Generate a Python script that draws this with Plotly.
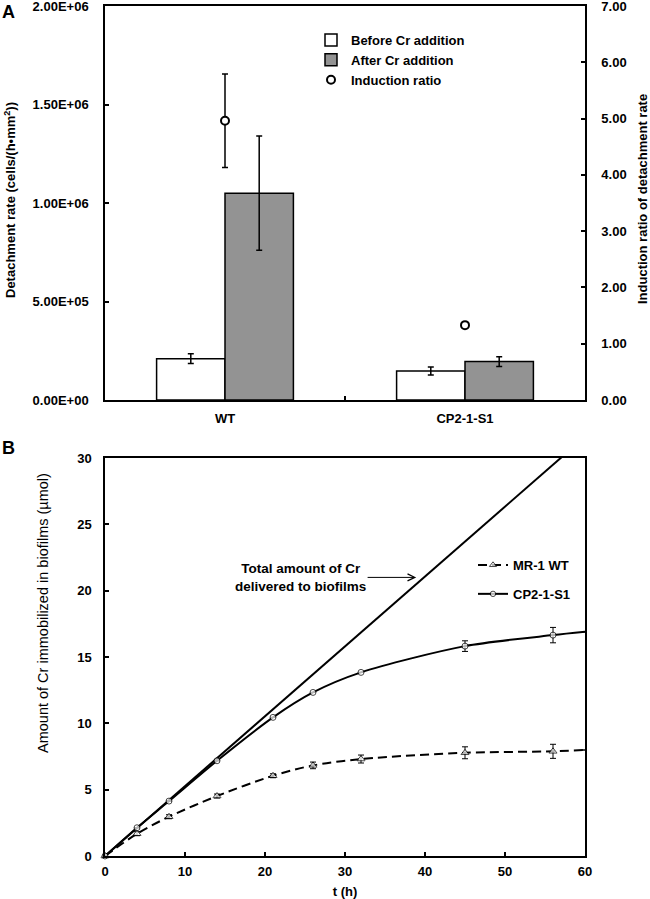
import math
import plotly.graph_objects as go

# ---------------- Panel A data ----------------
strains = ["WT", "CP2-1-S1"]
before_rate = [2.10e5, 1.47e5]
before_err = [2.5e4, 2.0e4]
after_rate = [1.05e6, 1.95e5]
after_err = [2.9e5, 2.5e4]
induction_ratio = [4.96, 1.33]
induction_err = [0.83, float("nan")]

rate_ticks = [0, 5e5, 1e6, 1.5e6, 2e6]
rate_ticktext = [f"{v:.2E}" for v in rate_ticks]
ratio_ticks = [0, 1, 2, 3, 4, 5, 6, 7]

# ---------------- Panel B data ----------------
NA = float("nan")
time_h = [0, 4, 8, 14, 21, 26, 32, 45, 56]
wt_cr = [0, 1.68, 2.96, 4.52, 6.05, 6.83, 7.31, 7.78, 7.89]
wt_cr_err = [NA, 0.15, 0.15, 0.15, 0.15, 0.25, 0.3, 0.45, 0.53]
cp_cr = [0, 2.13, 4.14, 7.18, 10.45, 12.33, 13.84, 15.82, 16.65]
cp_cr_err = [NA, NA, NA, NA, NA, NA, NA, 0.4, 0.58]
# fitted curves continue to the axis end
fit_end_t = 60
wt_fit_end = 7.99
cp_fit_end = 16.9
total_t = [0, 60]
total_cr = [0, 31.6]

FONT = "Liberation Sans, Arial, sans-serif"
W, H = 650, 899

def px(x):
    return x / W

def py(y):
    return 1 - y / H

fig = go.Figure()

err_style = dict(type="data", color="black", thickness=1.5, width=3)

fig.add_bar(x=strains, y=before_rate, name="Before Cr addition",
            marker=dict(color="white", line=dict(color="black", width=1.5)),
            error_y=dict(array=before_err, **err_style),
            xaxis="x", yaxis="y", legend="legend")
fig.add_bar(x=strains, y=after_rate, name="After Cr addition",
            marker=dict(color="#939393", line=dict(color="black", width=1.5)),
            error_y=dict(array=after_err, **err_style),
            xaxis="x", yaxis="y", legend="legend")
fig.add_scatter(x=strains, y=induction_ratio, name="Induction ratio", mode="markers",
                marker=dict(symbol="circle", size=8, color="white",
                            line=dict(color="black", width=2)),
                error_y=dict(array=induction_err, **err_style),
                xaxis="x", yaxis="y2", legend="legend", cliponaxis=False)

# Panel B
fig.add_scatter(x=total_t, y=total_cr, mode="lines", showlegend=False,
                line=dict(color="black", width=2),
                xaxis="x3", yaxis="y3")
fig.add_scatter(x=time_h + [fit_end_t], y=wt_cr + [wt_fit_end], name="MR-1 WT",
                mode="lines+markers",
                line=dict(color="black", width=2, dash="9px,5px", shape="spline", smoothing=0.8),
                marker=dict(symbol="triangle-up", size=[7] * len(time_h) + [0], color="white",
                            line=dict(color="black", width=1)),
                error_y=dict(type="data", array=wt_cr_err + [NA], color="black",
                             thickness=1, width=3),
                xaxis="x3", yaxis="y3", legend="legend2", legendgroup="wt", cliponaxis=False)
fig.add_scatter(x=time_h + [fit_end_t], y=cp_cr + [cp_fit_end], name="CP2-1-S1",
                mode="lines+markers",
                line=dict(color="black", width=2, shape="spline", smoothing=0.8),
                marker=dict(symbol="circle", size=[6] * len(time_h) + [0], color="white",
                            line=dict(color="black", width=1)),
                error_y=dict(type="data", array=cp_cr_err + [NA], color="black",
                             thickness=1, width=3),
                xaxis="x3", yaxis="y3", legend="legend2", legendgroup="cp", cliponaxis=False)

tickfont = dict(family=FONT, size=13, color="black", weight="bold")
axis_common = dict(showline=True, linecolor="black", linewidth=1.5, ticks="inside",
                   ticklen=4, tickwidth=1.5, tickcolor="black", showgrid=False,
                   zeroline=False, tickfont=tickfont, automargin=False,
                   ticklabeloverflow="allow")

xdom = [px(105), px(585)]
fig.update_layout(
    width=W, height=H,
    margin=dict(l=0, r=0, t=0, b=0),
    paper_bgcolor="white", plot_bgcolor="white",
    font=dict(family=FONT, color="black"),
    barmode="group", bargap=0.43, bargroupgap=0,
    xaxis=dict(domain=xdom, anchor="y", type="category", mirror=True,
               tickson="boundaries", ticklabelstandoff=6, **axis_common),
    yaxis=dict(domain=[py(400), py(6)], anchor="x", range=[0, 2e6],
               tickvals=rate_ticks, ticktext=rate_ticktext, ticklabelstandoff=12,
               **axis_common),
    yaxis2=dict(overlaying="y", side="right", anchor="x", range=[0, 7],
                tickvals=ratio_ticks, tickformat=".2f", ticklabelstandoff=12,
                **axis_common),
    xaxis3=dict(domain=xdom, anchor="y3", range=[0, 60], dtick=10, mirror=True,
                ticklabelstandoff=3,
                title=dict(text="t (h)", font=dict(family=FONT, size=13, weight="bold"),
                           standoff=10),
                **axis_common),
    yaxis3=dict(domain=[py(856), py(458)], anchor="x3", range=[0, 30], dtick=5,
                mirror=True, ticklabelstandoff=9, **axis_common),
    legend=dict(x=px(311), y=py(25), xanchor="left", yanchor="top",
                bgcolor="rgba(0,0,0,0)", font=dict(family=FONT, size=13, weight="bold"),
                itemclick=False),
    legend2=dict(x=px(473), y=py(550), xanchor="left", yanchor="top",
                 bgcolor="rgba(0,0,0,0)", font=dict(family=FONT, size=13, weight="bold"),
                 tracegroupgap=9),
    annotations=[
        dict(text="<b>A</b>", x=px(8), y=py(12), xref="paper", yref="paper",
             xanchor="center", yanchor="middle", showarrow=False, font=dict(size=18)),
        dict(text="<b>B</b>", x=px(8), y=py(448), xref="paper", yref="paper",
             xanchor="center", yanchor="middle", showarrow=False, font=dict(size=18)),
        dict(text="<b>Detachment rate (cells/(h\u2022mm<sup>2</sup>))</b>", x=px(10), y=py(200),
             xref="paper", yref="paper", xanchor="center", yanchor="middle",
             showarrow=False, textangle=-90, font=dict(size=13)),
        dict(text="<b>Induction ratio of detachment rate</b>", x=px(642), y=py(199),
             xref="paper", yref="paper", xanchor="center", yanchor="middle",
             showarrow=False, textangle=-90, font=dict(size=13)),
        dict(text="Amount of Cr immobilized in biofilms (\u00b5mol)", x=px(43), y=py(613),
             xref="paper", yref="paper", xanchor="center", yanchor="middle",
             showarrow=False, textangle=-90, font=dict(size=14.5)),
        dict(text="<b>Total amount of Cr<br>delivered to biofilms</b>",
             x=38.9, y=21.0, xref="x3", yref="y3",
             ax=24.45, ay=21.0, axref="x3", ayref="y3",
             showarrow=True, arrowhead=5, arrowsize=1.4, arrowwidth=1,
             arrowcolor="black", font=dict(size=13.5)),
    ],
)

# remove the browser's default 8px body margin so the figure sits at the page origin
fig.write_html("out.html", config={"displayModeBar": False},
               post_script="document.body.style.margin='0';")
